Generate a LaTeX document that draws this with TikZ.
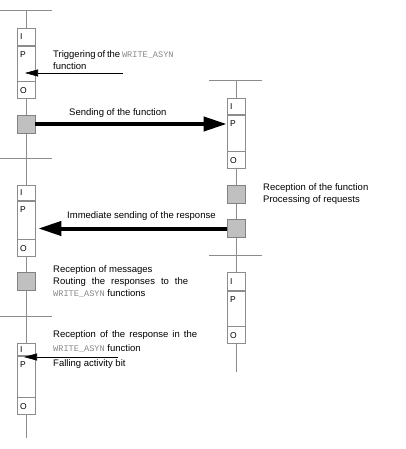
\documentclass[tikz,border=0pt]{standalone}
\usepackage{fontspec}
\setmainfont{Liberation Sans}
\newfontfamily\codefont{Liberation Mono}
\usepackage{tikz}
\usetikzlibrary{arrows.meta,positioning}
\usepackage{xcolor}
\definecolor{linegray}{RGB}{140,140,140}
\definecolor{sqfill}{RGB}{192,192,192}
\definecolor{sqdraw}{RGB}{130,130,130}
\definecolor{codegray}{RGB}{135,135,135}
\newcommand{\wasyn}{{\codefont\fontsize{8.6}{12}\selectfont\color{codegray}WRITE\_ASYN}}

\begin{document}
\begin{tikzpicture}[x=1pt,y=-1pt,
	timeline/.style={draw=linegray,line width=0.8pt},
	cell/.style={draw=linegray,fill=white,line width=0.7pt,inner xsep=3pt,inner ysep=0pt,
		text width=12pt,align=left,font=\fontsize{8.5}{9}\selectfont},
	pcell/.style={cell,text height=11pt,text depth=#1},
	proc/.style={draw=sqdraw,fill=sqfill,line width=0.6pt,minimum size=18pt,inner sep=0pt},
	bigarrow/.style={line width=4pt,-{Triangle[length=23pt,width=14pt]}},
	smallarrow/.style={line width=0.6pt,-{Triangle[length=13pt,width=7pt]}},
	note/.style={anchor=north west,inner sep=0pt,align=left,font=\fontsize{9.5}{12.3}\selectfont}]
	\useasboundingbox (0,0) rectangle (406,449);
	% time lines of the two stations
	\coordinate (ltop) at (26,10);
	\coordinate (lbot) at (26,438);
	\coordinate (rtop) at (236,80);
	\coordinate (rbot) at (236,372);
	\draw[timeline] (ltop) -- (lbot);
	\draw[timeline] (rtop) -- (rbot);
	\draw[timeline] (0,10) -- (52,10);
	\draw[timeline] (0,158) -- (52,158);
	\draw[timeline] (0,316) -- (52,316);
	\draw[timeline] (209,80) -- (262,80);
	\draw[timeline] (209,255) -- (262,255);
	
	% I/P/O cycles
	\node[cell,minimum height=17pt,anchor=north] (lb1i) at (26,28) {I};
	\node[pcell=24pt,below=0pt of lb1i] (lb1p) {P};
	\node[cell,minimum height=17pt,below=0pt of lb1p] (lb1o) {O};
	
	\node[cell,minimum height=16pt,anchor=north] (rb1i) at (236,98) {I};
	\node[pcell=25pt,below=0pt of rb1i] (rb1p) {P};
	\node[cell,minimum height=17pt,below=0pt of rb1p] (rb1o) {O};
	
	\node[cell,minimum height=15pt,anchor=north] (lb2i) at (26,185) {I};
	\node[pcell=27pt,below=0pt of lb2i] (lb2p) {P};
	\node[cell,minimum height=17pt,below=0pt of lb2p] (lb2o) {O};
	
	\node[cell,minimum height=18pt,anchor=north] (rb2i) at (236,272) {I};
	\node[pcell=24pt,below=0pt of rb2i] (rb2p) {P};
	\node[cell,minimum height=17pt,below=0pt of rb2p] (rb2o) {O};
	
	\node[cell,minimum height=12pt,anchor=north] (lb3i) at (26,343) {I};
	\node[pcell=30pt,below=0pt of lb3i] (lb3p) {P};
	\node[cell,minimum height=17pt,below=0pt of lb3p] (lb3o) {O};
	
	% processing steps
	\node[proc] (ls1) at (26,124) {};
	\node[proc] (rs1) at (236,194) {};
	\node[proc] (rs2) at (236,228.5) {};
	\node[proc] (ls2) at (26,281.5) {};
	
	% exchanges
	\draw[bigarrow] (ls1.east) -- (ls1.east -| rb1p.west);
	\draw[bigarrow] (rs2.west) -- ([xshift=3pt]rs2.west -| lb2p.east);
	\coordinate (trig) at (123,73);
	\coordinate (resp) at (118,357);
	\draw[smallarrow] (trig) -- ([xshift=-1pt]trig -| lb1p.center);
	\draw[smallarrow] (resp) -- ([xshift=-2pt]resp -| lb3p.center);
	
	% comments
	\node[note] (trigtxt) at (53,50) {\makebox[119pt][s]{Triggering of the \wasyn}\\function};
	\node[note] (sendtxt) at (69,108) {Sending of the function};
	\node[note] (rectxt) at (263,183) {Reception of the function\\Processing of requests};
	\node[note] (immtxt) at (67,211) {Immediate sending of the response};
	\node[note] (msgtxt) at (53,265) {Reception of messages\\\makebox[135pt][s]{Routing the responses to the}\\\wasyn{} functions};
	\node[note,font=\fontsize{9.5}{14.5}\selectfont] (resptxt) at (53,330) {\makebox[144pt][s]{Reception of the response in the}\\\wasyn{} function\\Falling activity bit};
\end{tikzpicture}
\end{document}
